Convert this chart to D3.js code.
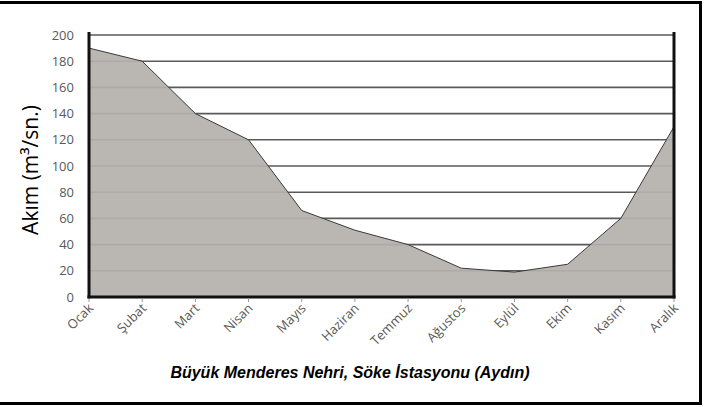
<!DOCTYPE html>
<html>
<head>
    <script src="https://d3js.org/d3.v7.min.js"></script>
    <style>
        body { margin: 0; background: #fff; }
        .tick-label { font: 13px "Open Sans", sans-serif; fill: #595959; }
        .axis-title { font: 21px "Open Sans", sans-serif; fill: #000; }
        .caption { font: italic bold 16px "Liberation Sans", Arial, sans-serif; fill: #000; }
    </style>
</head>
<body>
<svg width="704" height="407"></svg>
<script>
    // chart data
    const months = ["Ocak", "Şubat", "Mart", "Nisan", "Mayıs", "Haziran", "Temmuz",
        "Ağustos", "Eylül", "Ekim", "Kasım", "Aralık"];
    const flow = [190, 180, 140, 120, 66, 51, 40, 22, 19, 25, 60, 130];
    const yTicks = [0, 20, 40, 60, 80, 100, 120, 140, 160, 180, 200];

    const margin = {top: 35, right: 30, bottom: 110, left: 89},
        width = 674 - margin.left,
        height = 297 - margin.top;

    const svg = d3.select("svg");

    // outer frame (left edge is cut off in the original)
    svg.append("path")
        .attr("d", "M0,2.5 H700.5 V403.5 H0")
        .attr("fill", "none")
        .attr("stroke", "#000")
        .attr("stroke-width", 3);

    const g = svg.append("g")
        .attr("transform", "translate(" + margin.left + "," + margin.top + ")");

    const x = d3.scalePoint().domain(months).range([0, width]);
    const y = d3.scaleLinear().domain([0, 200]).range([height, 0]);

    // gridlines
    g.selectAll(".grid")
        .data(yTicks.filter(d => d > 0))
        .enter().append("line")
        .attr("x1", 0)
        .attr("x2", width)
        .attr("y1", d => y(d))
        .attr("y2", d => y(d))
        .attr("stroke", "#5a5a5a")
        .attr("stroke-width", 1.6);

    // area
    const area = d3.area()
        .x(d => x(d.m))
        .y0(height)
        .y1(d => y(d.v));
    const line = d3.line()
        .x(d => x(d.m))
        .y(d => y(d.v));
    const rows = months.map((m, i) => ({m: m, v: flow[i]}));

    g.append("path")
        .datum(rows)
        .attr("fill", "#b5b1ad")
        .attr("fill-opacity", 0.93)
        .attr("d", area);

    g.append("path")
        .datum(rows)
        .attr("fill", "none")
        .attr("stroke", "#3a3a3a")
        .attr("stroke-width", 1)
        .attr("d", line);

    // axes lines
    g.append("line")
        .attr("x1", 0).attr("x2", 0)
        .attr("y1", -3).attr("y2", height + 1.5)
        .attr("stroke", "#111").attr("stroke-width", 3);
    g.append("line")
        .attr("x1", width).attr("x2", width)
        .attr("y1", -3).attr("y2", height + 1.5)
        .attr("stroke", "#111").attr("stroke-width", 3);
    g.append("line")
        .attr("x1", -1.5).attr("x2", width + 1.5)
        .attr("y1", height).attr("y2", height)
        .attr("stroke", "#111").attr("stroke-width", 3);

    // x tick marks
    g.selectAll(".xtick")
        .data(months)
        .enter().append("line")
        .attr("x1", d => x(d)).attr("x2", d => x(d))
        .attr("y1", height + 1.5).attr("y2", height + 5)
        .attr("stroke", "#999");

    // y tick labels
    g.selectAll(".ylab")
        .data(yTicks)
        .enter().append("text")
        .attr("class", "tick-label")
        .attr("x", -15)
        .attr("y", d => y(d))
        .attr("dy", "0.35em")
        .attr("text-anchor", "end")
        .text(d => d);

    // x tick labels, rotated
    g.selectAll(".xlab")
        .data(months)
        .enter().append("text")
        .attr("class", "tick-label")
        .attr("text-anchor", "end")
        .attr("transform", d => "translate(" + (x(d) + 5) + "," + (height + 12) + ") rotate(-45)")
        .text(d => d);

    // y axis title
    svg.append("text")
        .attr("class", "axis-title")
        .attr("text-anchor", "middle")
        .attr("transform", "translate(38,170) rotate(-90)")
        .text("Akım (m³/sn.)");

    // caption
    svg.append("text")
        .attr("class", "caption")
        .attr("x", 350)
        .attr("y", 378)
        .attr("text-anchor", "middle")
        .text("Büyük Menderes Nehri, Söke İstasyonu (Aydın)");
</script>
</body>
</html>
